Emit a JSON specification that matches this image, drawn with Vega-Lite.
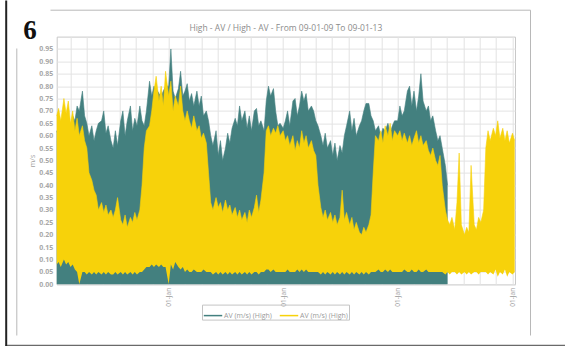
{
  "$schema": "https://vega.github.io/schema/vega-lite/v6.json",
  "width": 458.3,
  "height": 247.7,
  "autosize": {"type": "none"},
  "padding": {"left": 56.7, "top": 36.6, "right": 50, "bottom": 61.7},
  "background": "white",
  "title": {
    "text": "High - AV / High - AV - From 09-01-09 To 09-01-13",
    "font": "Open Sans",
    "fontSize": 8.5,
    "fontWeight": "normal",
    "color": "#8c8c8c",
    "anchor": "middle",
    "frame": "group",
    "offset": 6,
    "dy": 29
  },
  "data": {
    "values": [
      {"date": "2009-01-09", "teal": 0.62, "low": 0.08, "high": 0.68},
      {"date": "2009-01-15", "teal": 0.60, "low": 0.09, "high": 0.71},
      {"date": "2009-01-22", "teal": 0.58, "low": 0.07, "high": 0.66},
      {"date": "2009-02-01", "teal": 0.62, "low": 0.10, "high": 0.75},
      {"date": "2009-02-08", "teal": 0.64, "low": 0.08, "high": 0.69},
      {"date": "2009-02-15", "teal": 0.66, "low": 0.09, "high": 0.74},
      {"date": "2009-02-22", "teal": 0.62, "low": 0.07, "high": 0.65},
      {"date": "2009-03-01", "teal": 0.68, "low": 0.08, "high": 0.70},
      {"date": "2009-03-08", "teal": 0.66, "low": 0.06, "high": 0.62},
      {"date": "2009-03-15", "teal": 0.72, "low": 0.05, "high": 0.67},
      {"date": "2009-03-22", "teal": 0.70, "low": 0.00, "high": 0.60},
      {"date": "2009-04-01", "teal": 0.78, "low": 0.05, "high": 0.64},
      {"date": "2009-04-08", "teal": 0.68, "low": 0.05, "high": 0.58},
      {"date": "2009-04-15", "teal": 0.65, "low": 0.04, "high": 0.55},
      {"date": "2009-04-22", "teal": 0.60, "low": 0.05, "high": 0.45},
      {"date": "2009-05-01", "teal": 0.64, "low": 0.04, "high": 0.42},
      {"date": "2009-05-08", "teal": 0.58, "low": 0.05, "high": 0.38},
      {"date": "2009-05-15", "teal": 0.62, "low": 0.04, "high": 0.36},
      {"date": "2009-05-22", "teal": 0.65, "low": 0.05, "high": 0.30},
      {"date": "2009-06-01", "teal": 0.66, "low": 0.04, "high": 0.33},
      {"date": "2009-06-08", "teal": 0.70, "low": 0.05, "high": 0.29},
      {"date": "2009-06-15", "teal": 0.61, "low": 0.04, "high": 0.32},
      {"date": "2009-06-22", "teal": 0.64, "low": 0.05, "high": 0.28},
      {"date": "2009-07-01", "teal": 0.58, "low": 0.04, "high": 0.30},
      {"date": "2009-07-08", "teal": 0.55, "low": 0.04, "high": 0.27},
      {"date": "2009-07-15", "teal": 0.62, "low": 0.05, "high": 0.30},
      {"date": "2009-07-22", "teal": 0.56, "low": 0.04, "high": 0.35},
      {"date": "2009-08-01", "teal": 0.66, "low": 0.05, "high": 0.26},
      {"date": "2009-08-08", "teal": 0.70, "low": 0.04, "high": 0.24},
      {"date": "2009-08-15", "teal": 0.60, "low": 0.05, "high": 0.28},
      {"date": "2009-08-22", "teal": 0.66, "low": 0.04, "high": 0.23},
      {"date": "2009-09-01", "teal": 0.72, "low": 0.05, "high": 0.27},
      {"date": "2009-09-08", "teal": 0.62, "low": 0.04, "high": 0.25},
      {"date": "2009-09-15", "teal": 0.67, "low": 0.05, "high": 0.29},
      {"date": "2009-09-22", "teal": 0.64, "low": 0.04, "high": 0.26},
      {"date": "2009-10-01", "teal": 0.72, "low": 0.05, "high": 0.30},
      {"date": "2009-10-08", "teal": 0.66, "low": 0.05, "high": 0.40},
      {"date": "2009-10-15", "teal": 0.64, "low": 0.06, "high": 0.55},
      {"date": "2009-10-22", "teal": 0.70, "low": 0.07, "high": 0.62},
      {"date": "2009-11-01", "teal": 0.82, "low": 0.07, "high": 0.64},
      {"date": "2009-11-08", "teal": 0.76, "low": 0.08, "high": 0.70},
      {"date": "2009-11-15", "teal": 0.80, "low": 0.07, "high": 0.78},
      {"date": "2009-11-22", "teal": 0.79, "low": 0.08, "high": 0.84},
      {"date": "2009-12-01", "teal": 0.77, "low": 0.07, "high": 0.74},
      {"date": "2009-12-08", "teal": 0.76, "low": 0.08, "high": 0.80},
      {"date": "2009-12-15", "teal": 0.78, "low": 0.07, "high": 0.72},
      {"date": "2009-12-22", "teal": 0.80, "low": 0.07, "high": 0.86},
      {"date": "2010-01-01", "teal": 0.80, "low": 0.00, "high": 0.76},
      {"date": "2010-01-08", "teal": 0.95, "low": 0.08, "high": 0.82},
      {"date": "2010-01-15", "teal": 0.78, "low": 0.06, "high": 0.70},
      {"date": "2010-01-22", "teal": 0.75, "low": 0.09, "high": 0.76},
      {"date": "2010-02-01", "teal": 0.79, "low": 0.07, "high": 0.72},
      {"date": "2010-02-08", "teal": 0.86, "low": 0.06, "high": 0.80},
      {"date": "2010-02-15", "teal": 0.76, "low": 0.07, "high": 0.70},
      {"date": "2010-02-22", "teal": 0.78, "low": 0.05, "high": 0.66},
      {"date": "2010-03-01", "teal": 0.81, "low": 0.06, "high": 0.70},
      {"date": "2010-03-08", "teal": 0.74, "low": 0.05, "high": 0.66},
      {"date": "2010-03-15", "teal": 0.77, "low": 0.05, "high": 0.63},
      {"date": "2010-03-22", "teal": 0.72, "low": 0.06, "high": 0.68},
      {"date": "2010-04-01", "teal": 0.78, "low": 0.05, "high": 0.62},
      {"date": "2010-04-08", "teal": 0.72, "low": 0.05, "high": 0.64},
      {"date": "2010-04-15", "teal": 0.76, "low": 0.05, "high": 0.59},
      {"date": "2010-04-22", "teal": 0.68, "low": 0.06, "high": 0.61},
      {"date": "2010-05-01", "teal": 0.70, "low": 0.05, "high": 0.57},
      {"date": "2010-05-08", "teal": 0.66, "low": 0.05, "high": 0.45},
      {"date": "2010-05-15", "teal": 0.60, "low": 0.05, "high": 0.33},
      {"date": "2010-05-22", "teal": 0.56, "low": 0.04, "high": 0.30},
      {"date": "2010-06-01", "teal": 0.62, "low": 0.05, "high": 0.35},
      {"date": "2010-06-08", "teal": 0.52, "low": 0.04, "high": 0.31},
      {"date": "2010-06-15", "teal": 0.58, "low": 0.05, "high": 0.33},
      {"date": "2010-06-22", "teal": 0.50, "low": 0.04, "high": 0.29},
      {"date": "2010-07-01", "teal": 0.55, "low": 0.05, "high": 0.34},
      {"date": "2010-07-08", "teal": 0.61, "low": 0.04, "high": 0.30},
      {"date": "2010-07-15", "teal": 0.57, "low": 0.05, "high": 0.32},
      {"date": "2010-07-22", "teal": 0.63, "low": 0.04, "high": 0.28},
      {"date": "2010-08-01", "teal": 0.67, "low": 0.05, "high": 0.31},
      {"date": "2010-08-08", "teal": 0.64, "low": 0.04, "high": 0.27},
      {"date": "2010-08-15", "teal": 0.72, "low": 0.05, "high": 0.30},
      {"date": "2010-08-22", "teal": 0.66, "low": 0.04, "high": 0.26},
      {"date": "2010-09-01", "teal": 0.70, "low": 0.05, "high": 0.29},
      {"date": "2010-09-08", "teal": 0.63, "low": 0.04, "high": 0.25},
      {"date": "2010-09-15", "teal": 0.68, "low": 0.05, "high": 0.30},
      {"date": "2010-09-22", "teal": 0.62, "low": 0.04, "high": 0.27},
      {"date": "2010-10-01", "teal": 0.70, "low": 0.05, "high": 0.31},
      {"date": "2010-10-08", "teal": 0.71, "low": 0.05, "high": 0.36},
      {"date": "2010-10-15", "teal": 0.64, "low": 0.04, "high": 0.29},
      {"date": "2010-10-22", "teal": 0.66, "low": 0.05, "high": 0.34},
      {"date": "2010-11-01", "teal": 0.62, "low": 0.05, "high": 0.45},
      {"date": "2010-11-08", "teal": 0.74, "low": 0.06, "high": 0.62},
      {"date": "2010-11-15", "teal": 0.80, "low": 0.06, "high": 0.64},
      {"date": "2010-11-22", "teal": 0.76, "low": 0.05, "high": 0.60},
      {"date": "2010-12-01", "teal": 0.79, "low": 0.06, "high": 0.63},
      {"date": "2010-12-08", "teal": 0.70, "low": 0.05, "high": 0.61},
      {"date": "2010-12-15", "teal": 0.64, "low": 0.05, "high": 0.64},
      {"date": "2010-12-22", "teal": 0.65, "low": 0.05, "high": 0.60},
      {"date": "2011-01-01", "teal": 0.63, "low": 0.05, "high": 0.62},
      {"date": "2011-01-08", "teal": 0.66, "low": 0.05, "high": 0.58},
      {"date": "2011-01-15", "teal": 0.70, "low": 0.06, "high": 0.60},
      {"date": "2011-01-22", "teal": 0.64, "low": 0.05, "high": 0.56},
      {"date": "2011-02-01", "teal": 0.74, "low": 0.05, "high": 0.60},
      {"date": "2011-02-08", "teal": 0.75, "low": 0.05, "high": 0.54},
      {"date": "2011-02-15", "teal": 0.68, "low": 0.06, "high": 0.58},
      {"date": "2011-02-22", "teal": 0.72, "low": 0.05, "high": 0.55},
      {"date": "2011-03-01", "teal": 0.78, "low": 0.06, "high": 0.62},
      {"date": "2011-03-08", "teal": 0.74, "low": 0.05, "high": 0.57},
      {"date": "2011-03-15", "teal": 0.77, "low": 0.06, "high": 0.60},
      {"date": "2011-03-22", "teal": 0.70, "low": 0.05, "high": 0.55},
      {"date": "2011-04-01", "teal": 0.72, "low": 0.05, "high": 0.58},
      {"date": "2011-04-08", "teal": 0.70, "low": 0.05, "high": 0.54},
      {"date": "2011-04-15", "teal": 0.66, "low": 0.05, "high": 0.52},
      {"date": "2011-04-22", "teal": 0.64, "low": 0.05, "high": 0.40},
      {"date": "2011-05-01", "teal": 0.60, "low": 0.04, "high": 0.31},
      {"date": "2011-05-08", "teal": 0.56, "low": 0.05, "high": 0.27},
      {"date": "2011-05-15", "teal": 0.61, "low": 0.04, "high": 0.30},
      {"date": "2011-05-22", "teal": 0.55, "low": 0.05, "high": 0.26},
      {"date": "2011-06-01", "teal": 0.58, "low": 0.04, "high": 0.29},
      {"date": "2011-06-08", "teal": 0.52, "low": 0.05, "high": 0.25},
      {"date": "2011-06-15", "teal": 0.57, "low": 0.04, "high": 0.28},
      {"date": "2011-06-22", "teal": 0.50, "low": 0.05, "high": 0.24},
      {"date": "2011-07-01", "teal": 0.56, "low": 0.04, "high": 0.27},
      {"date": "2011-07-08", "teal": 0.53, "low": 0.05, "high": 0.38},
      {"date": "2011-07-15", "teal": 0.60, "low": 0.04, "high": 0.26},
      {"date": "2011-07-22", "teal": 0.64, "low": 0.05, "high": 0.29},
      {"date": "2011-08-01", "teal": 0.70, "low": 0.04, "high": 0.24},
      {"date": "2011-08-08", "teal": 0.62, "low": 0.05, "high": 0.27},
      {"date": "2011-08-15", "teal": 0.67, "low": 0.04, "high": 0.22},
      {"date": "2011-08-22", "teal": 0.60, "low": 0.05, "high": 0.25},
      {"date": "2011-09-01", "teal": 0.64, "low": 0.04, "high": 0.21},
      {"date": "2011-09-08", "teal": 0.66, "low": 0.05, "high": 0.20},
      {"date": "2011-09-15", "teal": 0.70, "low": 0.04, "high": 0.23},
      {"date": "2011-09-22", "teal": 0.73, "low": 0.05, "high": 0.21},
      {"date": "2011-10-01", "teal": 0.73, "low": 0.04, "high": 0.24},
      {"date": "2011-10-08", "teal": 0.68, "low": 0.05, "high": 0.28},
      {"date": "2011-10-15", "teal": 0.66, "low": 0.05, "high": 0.45},
      {"date": "2011-10-22", "teal": 0.62, "low": 0.05, "high": 0.60},
      {"date": "2011-11-01", "teal": 0.64, "low": 0.06, "high": 0.58},
      {"date": "2011-11-08", "teal": 0.60, "low": 0.05, "high": 0.62},
      {"date": "2011-11-15", "teal": 0.63, "low": 0.05, "high": 0.57},
      {"date": "2011-11-22", "teal": 0.62, "low": 0.06, "high": 0.64},
      {"date": "2011-12-01", "teal": 0.65, "low": 0.05, "high": 0.60},
      {"date": "2011-12-08", "teal": 0.61, "low": 0.06, "high": 0.65},
      {"date": "2011-12-15", "teal": 0.64, "low": 0.05, "high": 0.58},
      {"date": "2011-12-22", "teal": 0.66, "low": 0.05, "high": 0.62},
      {"date": "2012-01-01", "teal": 0.66, "low": 0.05, "high": 0.60},
      {"date": "2012-01-08", "teal": 0.72, "low": 0.05, "high": 0.62},
      {"date": "2012-01-15", "teal": 0.68, "low": 0.05, "high": 0.58},
      {"date": "2012-01-22", "teal": 0.70, "low": 0.06, "high": 0.61},
      {"date": "2012-02-01", "teal": 0.78, "low": 0.05, "high": 0.57},
      {"date": "2012-02-08", "teal": 0.80, "low": 0.05, "high": 0.60},
      {"date": "2012-02-15", "teal": 0.72, "low": 0.06, "high": 0.56},
      {"date": "2012-02-22", "teal": 0.78, "low": 0.05, "high": 0.59},
      {"date": "2012-03-01", "teal": 0.70, "low": 0.05, "high": 0.62},
      {"date": "2012-03-08", "teal": 0.76, "low": 0.06, "high": 0.57},
      {"date": "2012-03-15", "teal": 0.85, "low": 0.05, "high": 0.60},
      {"date": "2012-03-22", "teal": 0.74, "low": 0.05, "high": 0.56},
      {"date": "2012-04-01", "teal": 0.70, "low": 0.06, "high": 0.58},
      {"date": "2012-04-08", "teal": 0.72, "low": 0.05, "high": 0.54},
      {"date": "2012-04-15", "teal": 0.66, "low": 0.05, "high": 0.52},
      {"date": "2012-04-22", "teal": 0.68, "low": 0.05, "high": 0.55},
      {"date": "2012-05-01", "teal": 0.62, "low": 0.05, "high": 0.50},
      {"date": "2012-05-08", "teal": 0.58, "low": 0.05, "high": 0.48},
      {"date": "2012-05-15", "teal": 0.60, "low": 0.05, "high": 0.52},
      {"date": "2012-05-22", "teal": 0.55, "low": 0.05, "high": 0.40},
      {"date": "2012-06-01", "teal": 0.48, "low": 0.04, "high": 0.30},
      {"date": "2012-06-08", "teal": 0.40, "low": 0.05, "high": 0.26},
      {"date": "2012-06-15", "teal": null, "low": 0.04, "high": 0.24},
      {"date": "2012-06-22", "teal": null, "low": 0.05, "high": 0.27},
      {"date": "2012-07-01", "teal": null, "low": 0.05, "high": 0.22},
      {"date": "2012-07-08", "teal": null, "low": 0.04, "high": 0.33},
      {"date": "2012-07-15", "teal": null, "low": 0.05, "high": 0.53},
      {"date": "2012-07-22", "teal": null, "low": 0.04, "high": 0.24},
      {"date": "2012-08-01", "teal": null, "low": 0.05, "high": 0.20},
      {"date": "2012-08-08", "teal": null, "low": 0.04, "high": 0.23},
      {"date": "2012-08-15", "teal": null, "low": 0.05, "high": 0.21},
      {"date": "2012-08-22", "teal": null, "low": 0.04, "high": 0.48},
      {"date": "2012-09-01", "teal": null, "low": 0.05, "high": 0.24},
      {"date": "2012-09-08", "teal": null, "low": 0.05, "high": 0.22},
      {"date": "2012-09-15", "teal": null, "low": 0.04, "high": 0.27},
      {"date": "2012-09-22", "teal": null, "low": 0.05, "high": 0.25},
      {"date": "2012-10-01", "teal": null, "low": 0.05, "high": 0.30},
      {"date": "2012-10-08", "teal": null, "low": 0.05, "high": 0.55},
      {"date": "2012-10-15", "teal": null, "low": 0.04, "high": 0.62},
      {"date": "2012-10-22", "teal": null, "low": 0.05, "high": 0.58},
      {"date": "2012-11-01", "teal": null, "low": 0.04, "high": 0.63},
      {"date": "2012-11-08", "teal": null, "low": 0.06, "high": 0.60},
      {"date": "2012-11-15", "teal": null, "low": 0.03, "high": 0.66},
      {"date": "2012-11-22", "teal": null, "low": 0.05, "high": 0.59},
      {"date": "2012-12-01", "teal": null, "low": 0.04, "high": 0.63},
      {"date": "2012-12-08", "teal": null, "low": 0.06, "high": 0.58},
      {"date": "2012-12-15", "teal": null, "low": 0.03, "high": 0.62},
      {"date": "2012-12-22", "teal": null, "low": 0.05, "high": 0.57},
      {"date": "2013-01-01", "teal": null, "low": 0.04, "high": 0.61},
      {"date": "2013-01-08", "teal": null, "low": 0.05, "high": 0.58}
    ]
  },
  "layer": [
    {
      "encoding": {
        "x": {
          "field": "date",
          "type": "temporal",
          "scale": {
            "type": "utc",
            "domain": [
              {"year": 2009, "month": 1, "date": 9, "utc": true},
              {"year": 2013, "month": 1, "date": 9, "utc": true}
            ]
          },
          "axis": {
            "title": null,
            "values": [
              1235260800000, 1239753600000, 1244246400000, 1248825600000, 1253318400000, 1257811200000,
              1262304000000, 1266796800000, 1271289600000, 1275782400000, 1280361600000, 1284854400000, 1289347200000,
              1293840000000, 1298332800000, 1302825600000, 1307318400000, 1311897600000, 1316390400000, 1320883200000,
              1325376000000, 1329868800000, 1334448000000, 1338940800000, 1343520000000, 1348012800000, 1352505600000,
              1356998400000
            ],
            "labelExpr": "utcmonth(datum.value) == 0 && utcdate(datum.value) == 1 ? '01-Jan' : ''",
            "labelAngle": 270,
            "labelFont": "Open Sans",
            "labelFontSize": 6.5,
            "labelColor": "#9a9a9a",
            "labelPadding": 3,
            "labelOverlap": false,
            "labelFlush": false,
            "labelBound": false,
            "domain": false,
            "ticks": false,
            "grid": true,
            "gridColor": "#e3e3e3"
          }
        }
      },
      "layer": [
        {
          "mark": {"type": "area", "interpolate": "linear", "color": "#43807f"},
          "encoding": {
            "y": {
              "field": "teal",
              "type": "quantitative",
              "scale": {"domain": [0, 1], "nice": false},
              "axis": {
                "title": "m/s",
                "values": [0, 0.05, 0.1, 0.15, 0.2, 0.25, 0.3, 0.35, 0.4, 0.45, 0.5, 0.55, 0.6, 0.65, 0.7, 0.75, 0.8, 0.85, 0.9, 0.95],
                "format": ".2f",
                "labelFont": "Open Sans",
                "labelFontSize": 7,
                "labelFontWeight": "bold",
                "labelColor": "#a8a8a8",
                "labelPadding": 4,
                "titleFont": "Open Sans",
                "titleFontSize": 7,
                "titleFontWeight": "normal",
                "titleColor": "#a0a0a0",
                "titlePadding": 3,
                "domain": false,
                "ticks": false,
                "grid": true,
                "gridColor": "#e3e3e3"
              }
            }
          }
        },
        {
          "mark": {"type": "line", "interpolate": "linear", "strokeWidth": 0.6},
          "encoding": {
            "y": {"field": "teal", "type": "quantitative", "axis": null},
            "color": {
              "datum": "teal",
              "scale": {"domain": ["teal", "yellow"], "range": ["#43807f", "#f7d20a"]},
              "legend": {
                "title": null,
                "orient": "none",
                "legendX": 145.3,
                "legendY": 268,
                "direction": "horizontal",
                "symbolType": "stroke",
                "symbolSize": 340,
                "symbolStrokeWidth": 1.5,
                "labelExpr": "'AV (m/s) (High)'",
                "labelFont": "Open Sans",
                "labelFontSize": 7,
                "labelColor": "#9a9a9a",
                "labelOffset": 1,
                "columnPadding": 4,
                "strokeColor": "#c4c4c4",
                "padding": 1
              }
            }
          }
        },
        {
          "mark": {"type": "area", "interpolate": "linear", "color": "#f7d20a"},
          "encoding": {
            "y": {
              "field": "high",
              "type": "quantitative",
              "axis": {
                "orient": "left",
                "title": "6",
                "titleFont": "Liberation Serif",
                "titleFontWeight": "bold",
                "titleFontSize": 27,
                "titleColor": "#111111",
                "titleAngle": 0,
                "titleAlign": "left",
                "titleBaseline": "alphabetic",
                "titleX": -34,
                "titleY": 1.5,
                "labels": false,
                "ticks": false,
                "domain": false,
                "grid": false
              }
            },
            "y2": {"field": "low"}
          }
        },
        {
          "mark": {"type": "line", "interpolate": "linear", "strokeWidth": 0.6},
          "encoding": {
            "y": {"field": "high", "type": "quantitative", "axis": null},
            "color": {"datum": "yellow"}
          }
        }
      ],
      "resolve": {"axis": {"y": "independent"}}
    },
    {
      "data": {"values": []},
      "mark": {"type": "point"},
      "encoding": {
        "x": {
          "field": "edge",
          "type": "quantitative",
          "scale": {"domain": [0, 1], "range": [-51.7, 508.3]},
          "axis": {"orient": "bottom", "offset": 60.7, "domainColor": "#6a6a6a", "domainWidth": 1.5, "labels": false, "ticks": false, "grid": false, "title": null}
        },
        "y": {
          "field": "edge",
          "type": "quantitative",
          "scale": {"domain": [0, 1], "range": [309.4, -36.6]},
          "axis": {"orient": "left", "offset": 51, "domainColor": "#222222", "domainWidth": 2, "labels": false, "ticks": false, "grid": false, "title": null}
        }
      }
    },
    {
      "data": {"values": []},
      "mark": {"type": "point"},
      "encoding": {
        "x": {
          "field": "edge",
          "type": "quantitative",
          "scale": {"domain": [0, 1], "range": [-6.7, 473.3]},
          "axis": {"orient": "top", "offset": 26.9, "domainColor": "#b8b8b8", "domainWidth": 1, "labels": false, "ticks": false, "grid": false, "title": null}
        },
        "y": {
          "field": "edge",
          "type": "quantitative",
          "scale": {"domain": [0, 1], "range": [298.4, -26.9]},
          "axis": {"orient": "right", "offset": 15, "domainColor": "#b8b8b8", "domainWidth": 1, "labels": false, "ticks": false, "grid": false, "title": null}
        }
      }
    },
    {
      "data": {"values": []},
      "mark": {"type": "point"},
      "encoding": {
        "y": {
          "field": "edge",
          "type": "quantitative",
          "scale": {"domain": [0, 1], "range": [298.4, 11.4]},
          "axis": {"orient": "left", "offset": 40.4, "domainColor": "#b8b8b8", "domainWidth": 1, "labels": false, "ticks": false, "grid": false, "title": null}
        }
      }
    }
  ],
  "resolve": {
    "scale": {"x": "independent", "y": "independent"},
    "axis": {"x": "independent", "y": "independent"}
  },
  "config": {
    "view": {"stroke": "#c8c8c8"}
  }
}
